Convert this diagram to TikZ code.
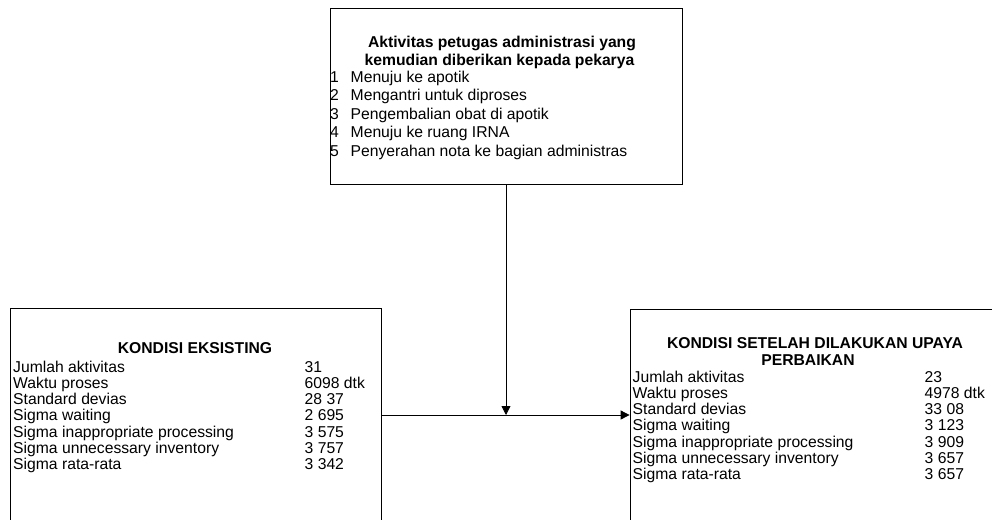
\documentclass[tikz,border=0pt]{standalone}
\usepackage{fontspec}
\setmainfont{Liberation Sans}
\usetikzlibrary{arrows.meta}
\begin{document}
\begin{tikzpicture}[x=1pt,y=-1pt,
  box/.style={draw, line width=0.8pt, rectangle, inner sep=0pt},
  txt/.style={anchor=base west, inner sep=0pt, font=\fontsize{15.7}{16}\selectfont},
  ttl/.style={anchor=base, inner sep=0pt, font=\fontsize{15.7}{16}\selectfont\bfseries},
  conn/.style={line width=0.8pt, -{Triangle[length=9pt,width=9pt]}}]
\useasboundingbox (0,0) rectangle (992,519);
\clip (0,0) rectangle (992,519);
% boxes
\node[box, minimum width=352pt, minimum height=176pt] (top) at (506,96) {};
\node[box, minimum width=370.3pt, minimum height=232pt] (left) at (195.85,424) {};
\node[box, minimum width=380pt, minimum height=231pt] (right) at (820,424.5) {};
% top box text
\node[ttl] (t1) at (502,48) {Aktivitas petugas administrasi yang};
\node[ttl] (t2) at (499.5,65) {kemudian diberikan kepada pekarya};
\foreach \n/\s [count=\i from 0] in {1/Menuju ke apotik,2/Mengantri untuk diproses,3/Pengembalian obat di apotik,4/Menuju ke ruang IRNA,5/Penyerahan nota ke bagian administras}{
  \node[txt] (tn\n) at (330,82+18.5*\i) {\n};
  \node[txt] (ti\n) at (350.5,82+18.5*\i) {\s};
}
% left box text
\node[ttl] (lt) at (195,353) {KONDISI EKSISTING};
\foreach \a/\b [count=\i from 0] in {Jumlah aktivitas/31,Waktu proses/6098 dtk,Standard devias/28 37,Sigma waiting/2 695,Sigma inappropriate processing/3 575,Sigma unnecessary inventory/3 757,Sigma rata-rata/3 342}{
  \node[txt] (la\i) at (13,372.2+16.25*\i) {\a};
  \node[txt] (lv\i) at (304.5,372.2+16.25*\i) {\b};
}
% right box text
\node[ttl] (rt1) at (815,348.5) {KONDISI SETELAH DILAKUKAN UPAYA};
\node[ttl] (rt2) at (808,365.5) {PERBAIKAN};
\foreach \a/\b [count=\i from 0] in {Jumlah aktivitas/23,Waktu proses/4978 dtk,Standard devias/33 08,Sigma waiting/3 123,Sigma inappropriate processing/3 909,Sigma unnecessary inventory/3 657,Sigma rata-rata/3 657}{
  \node[txt] (ra\i) at (632.5,382.2+16.25*\i) {\a};
  \node[txt] (rv\i) at (924.5,382.2+16.25*\i) {\b};
}
% connectors
\coordinate (j) at (top.south |- 0,415);
\draw[conn] (top.south) -- (j);
\draw[conn] (j -| left.east) -- (j -| right.west);
\end{tikzpicture}
\end{document}
